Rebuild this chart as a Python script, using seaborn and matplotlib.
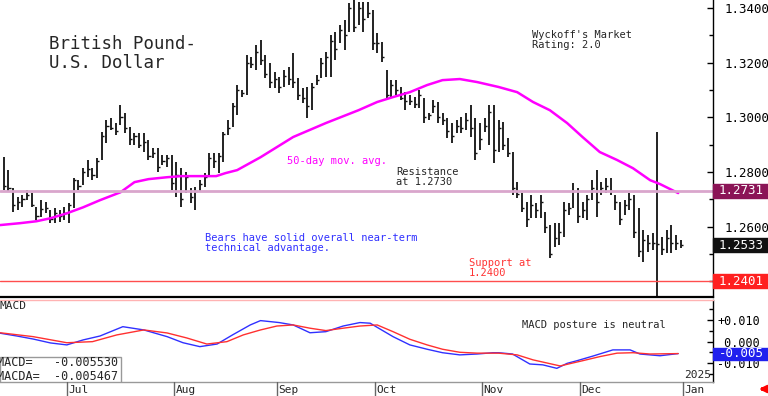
import matplotlib
matplotlib.use('Agg')
import matplotlib.pyplot as plt
from matplotlib.patches import Rectangle
from matplotlib.ticker import MultipleLocator
import numpy as np
import pandas as pd
import seaborn as sns

# GBP/USD daily bars, 11 Jun - 31 Dec 2024
dates = pd.bdate_range('2024-06-11', '2024-12-31')

high = [1.2855, 1.2807, 1.2741, 1.2708, 1.2715, 1.2734, 1.2723, 1.2671, 1.2697, 1.2690,
        1.2660, 1.2668, 1.2660, 1.2671, 1.2686, 1.2778, 1.2770, 1.2814, 1.2843, 1.2814,
        1.2851, 1.2946, 1.2990, 1.2997, 1.2979, 1.3045, 1.3015, 1.2964, 1.2942, 1.2942,
        1.2942, 1.2917, 1.2887, 1.2887, 1.2862, 1.2862, 1.2862, 1.2836, 1.2814, 1.2800,
        1.2741, 1.2745, 1.2770, 1.2796, 1.2869, 1.2869, 1.2869, 1.2946, 1.2990, 1.3052,
        1.3118, 1.3100, 1.3228, 1.3220, 1.3264, 1.3283, 1.3228, 1.3198, 1.3165, 1.3147,
        1.3173, 1.3184, 1.3235, 1.3144, 1.3107, 1.3111, 1.3125, 1.3154, 1.3217, 1.3239,
        1.3301, 1.3312, 1.3338, 1.3356, 1.3418, 1.3435, 1.3422, 1.3422, 1.3422, 1.3392,
        1.3308, 1.3275, 1.3173, 1.3136, 1.3136, 1.3111, 1.3092, 1.3081, 1.3074, 1.3100,
        1.3070, 1.3015, 1.3063, 1.3056, 1.3015, 1.2997, 1.2979, 1.2990, 1.3001, 1.3015,
        1.3045, 1.2997, 1.2979, 1.2997, 1.3045, 1.3045, 1.2990, 1.2982, 1.2924, 1.2873,
        1.2763, 1.2723, 1.2690, 1.2715, 1.2686, 1.2715, 1.2653, 1.2606, 1.2613, 1.2613,
        1.2690, 1.2686, 1.2759, 1.2741, 1.2690, 1.2715, 1.2770, 1.2807, 1.2763, 1.2778,
        1.2778, 1.2715, 1.2690, 1.2697, 1.2723, 1.2715, 1.2668, 1.2587, 1.2569, 1.2576,
        1.2946, 1.2562, 1.2587, 1.2606, 1.2569, 1.2551]

low = [1.2734, 1.2726, 1.2653, 1.2660, 1.2671, 1.2697, 1.2671, 1.2624, 1.2635, 1.2649,
       1.2613, 1.2613, 1.2617, 1.2624, 1.2613, 1.2668, 1.2734, 1.2752, 1.2781, 1.2770,
       1.2778, 1.2843, 1.2906, 1.2953, 1.2935, 1.2972, 1.2942, 1.2898, 1.2898, 1.2887,
       1.2873, 1.2843, 1.2851, 1.2800, 1.2825, 1.2818, 1.2734, 1.2708, 1.2671, 1.2723,
       1.2686, 1.2660, 1.2726, 1.2745, 1.2781, 1.2814, 1.2796, 1.2836, 1.2935, 1.2964,
       1.3008, 1.3074, 1.3081, 1.3180, 1.3173, 1.3191, 1.3144, 1.3107, 1.3107, 1.3089,
       1.3111, 1.3118, 1.3107, 1.3063, 1.3052, 1.2997, 1.3026, 1.3118, 1.3144, 1.3147,
       1.3147, 1.3209, 1.3272, 1.3246, 1.3312, 1.3312, 1.3338, 1.3312, 1.3363, 1.3246,
       1.3235, 1.3202, 1.3063, 1.3074, 1.3081, 1.3063, 1.3026, 1.3045, 1.3034, 1.3034,
       1.2979, 1.2990, 1.3015, 1.2979, 1.2972, 1.2924, 1.2906, 1.2942, 1.2942, 1.2953,
       1.2928, 1.2843, 1.2880, 1.2946, 1.2898, 1.2832, 1.2873, 1.2880, 1.2854, 1.2715,
       1.2704, 1.2653, 1.2598, 1.2631, 1.2631, 1.2631, 1.2576, 1.2485, 1.2525, 1.2532,
       1.2562, 1.2642, 1.2668, 1.2613, 1.2631, 1.2624, 1.2697, 1.2635, 1.2715, 1.2723,
       1.2715, 1.2660, 1.2606, 1.2642, 1.2660, 1.2558, 1.2488, 1.2470, 1.2507, 1.2514,
       1.2300, 1.2496, 1.2503, 1.2503, 1.2514, 1.2521]

close = [1.2750, 1.2740, 1.2680, 1.2690, 1.2700, 1.2715, 1.2680, 1.2640, 1.2665, 1.2670,
         1.2630, 1.2650, 1.2640, 1.2650, 1.2680, 1.2770, 1.2750, 1.2800, 1.2810, 1.2790,
         1.2840, 1.2930, 1.2970, 1.2960, 1.2950, 1.3000, 1.2960, 1.2920, 1.2930, 1.2900,
         1.2910, 1.2860, 1.2870, 1.2820, 1.2840, 1.2850, 1.2760, 1.2790, 1.2700, 1.2780,
         1.2710, 1.2730, 1.2755, 1.2780, 1.2850, 1.2840, 1.2860, 1.2940, 1.2960, 1.3040,
         1.3100, 1.3090, 1.3200, 1.3195, 1.3240, 1.3210, 1.3160, 1.3130, 1.3140, 1.3110,
         1.3150, 1.3140, 1.3130, 1.3080, 1.3070, 1.3040, 1.3110, 1.3135, 1.3200, 1.3220,
         1.3280, 1.3250, 1.3320, 1.3300, 1.3400, 1.3330, 1.3400, 1.3360, 1.3380, 1.3270,
         1.3270, 1.3220, 1.3080, 1.3120, 1.3100, 1.3070, 1.3060, 1.3060, 1.3050, 1.3080,
         1.3000, 1.3010, 1.3040, 1.3000, 1.2990, 1.2950, 1.2930, 1.2970, 1.2960, 1.2990,
         1.2960, 1.2870, 1.2920, 1.2970, 1.3020, 1.2880, 1.2960, 1.2900, 1.2870, 1.2740,
         1.2720, 1.2670, 1.2630, 1.2680, 1.2660, 1.2690, 1.2600, 1.2500, 1.2560, 1.2580,
         1.2660, 1.2670, 1.2730, 1.2640, 1.2660, 1.2700, 1.2740, 1.2690, 1.2740, 1.2750,
         1.2730, 1.2690, 1.2630, 1.2680, 1.2700, 1.2580, 1.2510, 1.2550, 1.2540, 1.2540,
         1.2535, 1.2520, 1.2560, 1.2540, 1.2540, 1.2533]

# 50-day moving average, read at bar numbers
ma_bar = [-0.8, 3.5, 7, 10, 13.5, 17, 20.6, 25, 28, 31, 35, 38, 42, 45.5, 47.5, 50, 55, 62,
          69, 76, 80, 83.4, 87, 90.7, 94, 97.7, 101.4, 106, 110, 113.4, 117, 120.7, 124,
          127.7, 131.4, 134.8, 138.5, 140.6, 144.5]
ma_val = [1.2606, 1.2613, 1.2620, 1.2631, 1.2649, 1.2671, 1.2697, 1.2726, 1.2763, 1.2774,
          1.2781, 1.2785, 1.2785, 1.2785, 1.2796, 1.2807, 1.2854, 1.2928, 1.2979, 1.3026,
          1.3056, 1.3074, 1.3092, 1.3118, 1.3136, 1.3140, 1.3129, 1.3111, 1.3092, 1.3056,
          1.3026, 1.2979, 1.2928, 1.2873, 1.2844, 1.2814, 1.2770, 1.2756, 1.2723]

# MACD and its signal line (MACDA)
macd_bar = [-0.8, 2.8, 6.3, 10, 13.5, 17, 20.6, 25.5, 30, 35, 38.4, 42, 45.7, 49, 52.8, 55,
            59, 62, 65.6, 69, 72.7, 76.3, 78.5, 83.4, 87, 90.7, 94, 97.7, 101.4, 104.8, 106,
            109, 112.7, 115.5, 118.5, 120.7, 122.8, 126.3, 130.5, 134.2, 136.3, 140.6, 144.5]
macd_val = [0.0039, 0.0026, 0.0012, -0.0006, -0.0015, 0.0008, 0.0026, 0.0069, 0.0054, 0.0023,
            -0.0005, -0.0023, -0.0011, 0.0031, 0.0077, 0.0097, 0.0088, 0.0077, 0.0041, 0.0046,
            0.0072, 0.0088, 0.0085, 0.0023, -0.0015, -0.0035, -0.0051, -0.0061, -0.0057,
            -0.0051, -0.0051, -0.0057, -0.0103, -0.0107, -0.0123, -0.0100, -0.0088, -0.0066,
            -0.0038, -0.0038, -0.0057, -0.0065, -0.0055]
signal_bar = [-0.8, 6.3, 13.5, 19, 24.2, 30, 35, 39.2, 43.5, 47.8, 51.3, 55, 58.5, 62, 65.6,
              69, 72.7, 76.3, 80, 83.4, 87, 90.7, 94, 97.7, 101.4, 106, 110, 113.4, 119.2,
              124, 127.7, 131.4, 134.8, 138.5, 144.5]
signal_val = [0.0041, 0.0023, -0.0005, 0.0000, 0.0031, 0.0054, 0.0040, 0.0017, -0.0011, 0.0000,
              0.0031, 0.0054, 0.0072, 0.0077, 0.0062, 0.0051, 0.0062, 0.0072, 0.0077, 0.0046,
              0.0011, -0.0015, -0.0035, -0.0049, -0.0053, -0.0053, -0.0061, -0.0084, -0.0112,
              -0.0088, -0.0069, -0.0053, -0.0051, -0.0057, -0.0055]

resistance = 1.2731
support = 1.2401
last_close = 1.2533
macd_last = -0.005530
macda_last = -0.005467
macd_tag_text = '-0.005'

price_ticks = [1.26, 1.28, 1.30, 1.32, 1.34]
macd_ticks = [-0.01, 0.0, 0.01]
macd_tick_labels = ['-0.010', ' 0.000', '+0.010']

df = pd.DataFrame({'date': dates, 'high': high, 'low': low, 'close': close})
df['bar'] = np.arange(len(df))

sns.set_theme(style='white')
plt.rcParams['font.family'] = ['DejaVu Sans Mono', 'DejaVu Sans']

W, H = 768, 396
fig = plt.figure(figsize=(W / 100, H / 100), dpi=100)
right = 713 / W
ax = fig.add_axes([0, 1 - 297 / H, right, 297 / H])
ax_m = fig.add_axes([0, 1 - 382 / H, right, 82 / H])
ax_d = fig.add_axes([0, 0, right, 14 / H])
xlim = (-0.82, 151.96)


def px(x, y):
    return x / W, 1 - y / H


def tag(axis, value, label, color, h_px=14, size=9):
    y0, y1 = axis.get_ylim()
    h = h_px * (y1 - y0) / axis.bbox.height
    tr = axis.get_yaxis_transform()
    axis.add_patch(Rectangle((1.0, value - h / 2), 55 / 713, h, transform=tr,
                             color=color, clip_on=False, zorder=4))
    axis.text(1.0 + 28 / 713, value, label, transform=tr, ha='center', va='center',
              color='white', fontsize=size, zorder=5, clip_on=False)


# ---- price panel
ax.vlines(df['bar'], df['low'], df['high'], color='#111111', lw=1.3)
ax.hlines(df['close'], df['bar'], df['bar'] + 0.45, color='#111111', lw=1)
sns.lineplot(x=ma_bar, y=ma_val, ax=ax, color='#ff00ff', lw=1.8)
ax.axhline(resistance, color='#d9a6cc', lw=2)
ax.axhline(support, color='#ff4d4d', lw=1)

ax.set_xlim(xlim)
ax.set_ylim(1.2343, 1.3429)
ax.set_xticks([])
ax.yaxis.tick_right()
ax.set_yticks(price_ticks)
ax.set_yticklabels([f'{t:.4f}' for t in price_ticks])
ax.yaxis.set_minor_locator(MultipleLocator(0.01))
ax.tick_params(axis='y', which='both', direction='in', right=True, left=False,
               length=4, width=1, pad=8, labelsize=9, colors='black')
ax.tick_params(axis='y', which='minor', length=3)
for s in ['top', 'left']:
    ax.spines[s].set_visible(False)
ax.spines['right'].set_color('black')
ax.spines['right'].set_linewidth(1)
ax.spines['bottom'].set_color('black')
ax.spines['bottom'].set_linewidth(1.6)

tag(ax, resistance, f'{resistance:.4f}', '#8b1456')
tag(ax, last_close, f'{last_close:.4f}', '#111111')
tag(ax, support, f'{support:.4f}', '#ff2020')

# ---- MACD panel
sns.lineplot(x=macd_bar, y=macd_val, ax=ax_m, color='#3030ff', lw=1)
sns.lineplot(x=signal_bar, y=signal_val, ax=ax_m, color='#ff3030', lw=1)
ax_m.set_xlim(xlim)
ax_m.set_ylim(-0.0186, 0.0192)
ax_m.set_xticks([])
ax_m.yaxis.tick_right()
ax_m.set_yticks(macd_ticks)
ax_m.set_yticklabels(macd_tick_labels)
ax_m.yaxis.set_minor_locator(MultipleLocator(0.005))
ax_m.tick_params(axis='y', which='both', direction='in', right=True, left=False,
                 length=4, width=1, pad=3, labelsize=8.5, colors='black')
ax_m.tick_params(axis='y', which='minor', length=3)
ax_m.spines['left'].set_visible(False)
ax_m.spines['top'].set_color('#ffb3b3')
ax_m.spines['top'].set_linewidth(1)
ax_m.spines['bottom'].set_color('#999999')
ax_m.spines['bottom'].set_linewidth(1)
ax_m.spines['right'].set_color('black')
ax_m.spines['right'].set_linewidth(1)
tag(ax_m, macd_last, macd_tag_text, '#2020ee', h_px=12, size=9)

ax_m.add_patch(Rectangle((0, 0), 121 / 713, 25 / 82, transform=ax_m.transAxes,
                         facecolor='white', edgecolor='#999999', lw=1, zorder=3))
ax_m.text(-0.004, 25 / 82 / 2, f'MACD=   {macd_last:.6f}\nMACDA=  {macda_last:.6f}',
          transform=ax_m.transAxes, ha='left', va='center', fontsize=8.5,
          linespacing=1.0, zorder=4)
ax_m.text(0.0, 0.99, 'MACD', transform=ax_m.transAxes, ha='left', va='top', fontsize=8)
ax_m.text(0.998, 0.02, '2025', transform=ax_m.transAxes, ha='right', va='bottom',
          fontsize=8)

# ---- date strip
ax_d.set_xlim(xlim)
ax_d.set_ylim(0, 1)
ax_d.axis('off')
month_pos = [df.loc[df['date'].dt.month == m, 'bar'].min() - 0.5 for m in range(7, 13)]
month_pos.append(len(df) - 0.5)
month_lab = [pd.Timestamp(2024, m, 1).strftime('%b') for m in range(7, 13)] + ['Jan']
for p, lab in zip(month_pos, month_lab):
    ax_d.axvline(p, color='#666666', lw=1)
    ax_d.text(p + 0.3, 0.4, lab, ha='left', va='center', fontsize=8)
ax_d.annotate('', xy=px(756, 389), xytext=px(768, 389), xycoords='figure fraction',
              textcoords='figure fraction',
              arrowprops=dict(arrowstyle='-|>', color='red', lw=2.5, mutation_scale=9))

# ---- annotations
fig.text(*px(49, 35), 'British Pound-\nU.S. Dollar', ha='left', va='top', fontsize=12.5,
         linespacing=1.05)
fig.text(*px(532, 30), "Wyckoff's Market\nRating: 2.0", ha='left', va='top',
         fontsize=7.5, linespacing=1.05)
fig.text(*px(287, 156), '50-day mov. avg.', ha='left', va='top', fontsize=7.5,
         color='#ff00ff')
fig.text(*px(396, 167), 'Resistance\nat 1.2730', ha='left', va='top', fontsize=7.5,
         linespacing=1.05)
fig.text(*px(205, 233), 'Bears have solid overall near-term\ntechnical advantage.',
         ha='left', va='top', fontsize=7.5, color='#3030ff', linespacing=1.05)
fig.text(*px(469, 258), 'Support at\n1.2400', ha='left', va='top', fontsize=7.5,
         color='#ff3333', linespacing=1.05)
fig.text(*px(522, 320), 'MACD posture is neutral', ha='left', va='top', fontsize=7.5)

fig.savefig('out.png', dpi=100)
